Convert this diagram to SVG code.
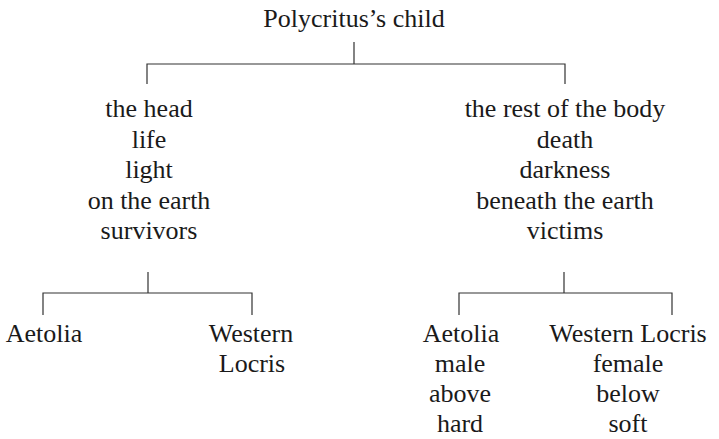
<svg xmlns="http://www.w3.org/2000/svg" width="719" height="439" viewBox="0 0 719 439" font-family="'Liberation Serif', 'DejaVu Serif', serif">
<style>
text{font-family:'Liberation Serif','DejaVu Serif',serif;font-size:26px;fill:#1a1a1a;text-anchor:middle}
.ln{stroke:#333;stroke-width:1.2;fill:none}
</style>
<rect width="719" height="439" fill="#fff"/>
<g id="connectors">
<path class="ln" d="M354,42V64M147,84V64H565V84"/>
<path class="ln" d="M148,272V293M43,315V293H252V315"/>
<path class="ln" d="M564,272V293M459,315V293H672V315"/>
</g>
<g id="root"><text x="354" y="27">Polycritus’s child</text></g>
<g id="head">
<text x="149" y="117">the head</text>
<text x="149" y="147.5">life</text>
<text x="149" y="178">light</text>
<text x="149" y="208.5">on the earth</text>
<text x="149" y="239">survivors</text>
</g>
<g id="body">
<text x="565" y="117">the rest of the body</text>
<text x="565" y="147.5">death</text>
<text x="565" y="178">darkness</text>
<text x="565" y="208.5">beneath the earth</text>
<text x="565" y="239">victims</text>
</g>
<g id="left-aetolia"><text x="44" y="342">Aetolia</text></g>
<g id="left-locris">
<text x="251" y="342">Western</text>
<text x="252" y="372">Locris</text>
</g>
<g id="right-aetolia">
<text x="461" y="342">Aetolia</text>
<text x="460" y="372">male</text>
<text x="460" y="402">above</text>
<text x="460" y="432">hard</text>
</g>
<g id="right-locris">
<text x="628" y="342">Western Locris</text>
<text x="628" y="372">female</text>
<text x="628" y="402">below</text>
<text x="628" y="432">soft</text>
</g>
</svg>
